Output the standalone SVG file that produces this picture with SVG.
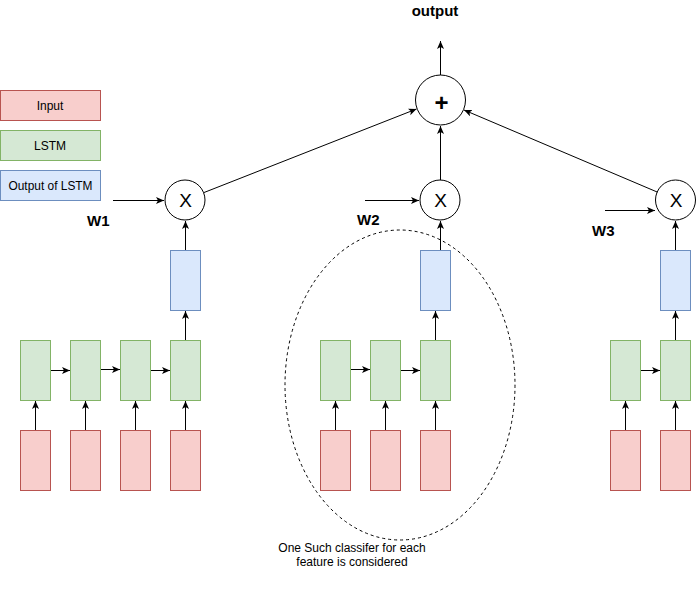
<svg xmlns="http://www.w3.org/2000/svg" width="696" height="592" viewBox="0 0 696 592">
<style>
.in{fill:#f8cecc;stroke:#b85450;stroke-width:1}
.ls{fill:#d5e8d4;stroke:#82b366;stroke-width:1}
.out{fill:#dae8fc;stroke:#6c8ebf;stroke-width:1}
.op{fill:#ffffff;stroke:#000000;stroke-width:1}
.t{font-family:"Liberation Sans",Arial,sans-serif;fill:#000000;text-anchor:middle}
.lg{font-size:12px}
.x{font-size:19px}
.w{font-size:15px;font-weight:bold;text-anchor:start}
.c{stroke:#000000;stroke-width:1;fill:none;marker-end:url(#ah)}
</style>
<defs>
<marker id="ah" markerUnits="userSpaceOnUse" markerWidth="10" markerHeight="8" refX="8" refY="3.5" orient="auto">
<path d="M0,0 L8,3.5 L0,7 L2,3.5 z" fill="#000000"/>
</marker>
</defs>
<rect width="696" height="592" fill="#ffffff"/>

<g id="legend">
<g id="legend-input"><rect class="in" x="0.5" y="90.5" width="100" height="30"/><text class="t lg" x="50" y="109.5">Input</text></g>
<g id="legend-lstm"><rect class="ls" x="0.5" y="130.5" width="100" height="30"/><text class="t lg" x="50" y="149.5">LSTM</text></g>
<g id="legend-output"><rect class="out" x="0.5" y="170.5" width="100" height="30"/><text class="t lg" x="50.5" y="189.5" textLength="84" lengthAdjust="spacingAndGlyphs">Output of LSTM</text></g>
</g>

<g id="classifier-ellipse">
<ellipse cx="400" cy="385" rx="115" ry="155" fill="none" stroke="#000000" stroke-width="1" stroke-dasharray="3,3"/>
<text class="t" style="font-size:12px" x="352" y="552">One Such classifer for each</text>
<text class="t" style="font-size:12px" x="352" y="566">feature is considered</text>
</g>

<g id="col1">
<g id="in1a"><rect class="in" x="20.5" y="430.5" width="30" height="60"/></g>
<g id="in1b"><rect class="in" x="70.5" y="430.5" width="30" height="60"/></g>
<g id="in1c"><rect class="in" x="120.5" y="430.5" width="30" height="60"/></g>
<g id="in1d"><rect class="in" x="170.5" y="430.5" width="30" height="60"/></g>
<g id="ls1a"><rect class="ls" x="20.5" y="340.5" width="30" height="60"/></g>
<g id="ls1b"><rect class="ls" x="70.5" y="340.5" width="30" height="60"/></g>
<g id="ls1c"><rect class="ls" x="120.5" y="340.5" width="30" height="60"/></g>
<g id="ls1d"><rect class="ls" x="170.5" y="340.5" width="30" height="60"/></g>
<g id="out1"><rect class="out" x="170.5" y="250.5" width="30" height="60"/></g>
<g id="mul1"><circle class="op" cx="185" cy="200" r="20"/><text class="t x" x="185.5" y="207">X</text></g>
<g id="w1"><text class="t w" x="87" y="226">W1</text></g>
</g>

<g id="col2">
<g id="in2a"><rect class="in" x="320.5" y="430.5" width="30" height="60"/></g>
<g id="in2b"><rect class="in" x="370.5" y="430.5" width="30" height="60"/></g>
<g id="in2c"><rect class="in" x="420.5" y="430.5" width="30" height="60"/></g>
<g id="ls2a"><rect class="ls" x="320.5" y="340.5" width="30" height="60"/></g>
<g id="ls2b"><rect class="ls" x="370.5" y="340.5" width="30" height="60"/></g>
<g id="ls2c"><rect class="ls" x="420.5" y="340.5" width="30" height="60"/></g>
<g id="out2"><rect class="out" x="420.5" y="250.5" width="30" height="60"/></g>
<g id="mul2"><circle class="op" cx="440" cy="200" r="20"/><text class="t x" x="440.5" y="207">X</text></g>
<g id="w2"><text class="t w" x="357" y="225">W2</text></g>
</g>

<g id="col3">
<g id="in3a"><rect class="in" x="610.5" y="430.5" width="30" height="60"/></g>
<g id="in3b"><rect class="in" x="660.5" y="430.5" width="30" height="60"/></g>
<g id="ls3a"><rect class="ls" x="610.5" y="340.5" width="30" height="60"/></g>
<g id="ls3b"><rect class="ls" x="660.5" y="340.5" width="30" height="60"/></g>
<g id="out3"><rect class="out" x="660.5" y="250.5" width="30" height="60"/></g>
<g id="mul3"><circle class="op" cx="675.5" cy="200" r="20"/><text class="t x" x="676" y="207">X</text></g>
<g id="w3"><text class="t w" x="592" y="236">W3</text></g>
</g>

<g id="sum"><circle class="op" cx="440.5" cy="100" r="25"/><text class="t" style="font-size:24px;font-weight:bold" x="441.5" y="111">+</text></g>
<g id="output-label"><text class="t" style="font-size:15px;font-weight:bold" x="435" y="16">output</text></g>

<g id="connectors">
<path class="c" d="M35.5,430 V401"/>
<path class="c" d="M85.5,430 V401"/>
<path class="c" d="M135.5,430 V401"/>
<path class="c" d="M185.5,430 V401"/>
<path class="c" d="M51,370.5 H70"/>
<path class="c" d="M101,369.5 H120"/>
<path class="c" d="M151,370.5 H170"/>
<path class="c" d="M185.5,340 V311"/>
<path class="c" d="M185.5,250 V221"/>
<path class="c" d="M113,200.5 H164"/>
<path class="c" d="M335.5,430 V401"/>
<path class="c" d="M385.5,430 V401"/>
<path class="c" d="M435.5,430 V401"/>
<path class="c" d="M351,369.5 H370"/>
<path class="c" d="M401,370.5 H420"/>
<path class="c" d="M435.5,340 V311"/>
<path class="c" d="M440.5,250 V221"/>
<path class="c" d="M365,200.5 H419"/>
<path class="c" d="M625.5,430 V401"/>
<path class="c" d="M675.5,430 V401"/>
<path class="c" d="M641,370.5 H660"/>
<path class="c" d="M675.5,340 V311"/>
<path class="c" d="M675.5,250 V221"/>
<path class="c" d="M605,210.5 H655"/>
<path class="c" d="M203.6,192.7 L416.5,109"/>
<path class="c" d="M440.5,180 V126"/>
<path class="c" d="M657.6,192.2 L464,110"/>
<path class="c" d="M440.5,75 V41"/>
</g>
</svg>
